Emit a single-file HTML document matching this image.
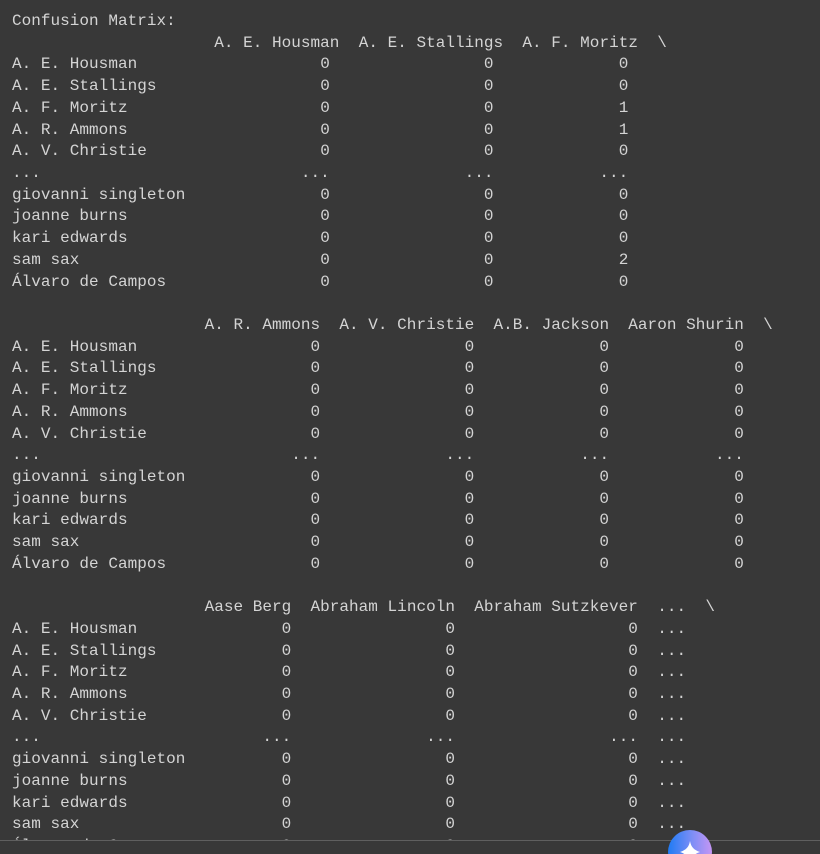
<!DOCTYPE html>
<html><head><meta charset="utf-8"><style>
html,body{margin:0;padding:0;background:#383838;width:820px;height:854px;overflow:hidden;}
body{position:relative;font-family:"Liberation Mono",monospace;font-size:16px;color:#d4d4d4;}
.l{position:absolute;left:0;height:22px;line-height:22px;width:820px;}
.l span{position:absolute;white-space:pre;letter-spacing:0.03px;}
.c0{left:12px}
.bar{position:absolute;left:0;top:840px;width:820px;height:14px;background:#383838;border-top:1px solid #5f5f5f;}
.fab{position:absolute;left:668px;top:830px;width:44px;height:44px;border-radius:50%;background:linear-gradient(90deg,#1f7bf4,#7d8ef6 55%,#c596f4);}
</style></head><body>
<div class="l" style="top:10px"><span class="c0">Confusion Matrix:</span></div>
<div class="l" style="top:31.7px"><span style="left:214.2px">A. E. Housman</span><span style="left:358.7px">A. E. Stallings</span><span style="left:522.4px">A. F. Moritz</span><span style="left:657.2px">\</span></div>

<div class="l" style="top:53.4px"><span class="c0">A. E. Housman</span><span style="left:320.2px">0</span><span style="left:483.9px">0</span><span style="left:618.7px">0</span></div>
<div class="l" style="top:75.1px"><span class="c0">A. E. Stallings</span><span style="left:320.2px">0</span><span style="left:483.9px">0</span><span style="left:618.7px">0</span></div>
<div class="l" style="top:96.8px"><span class="c0">A. F. Moritz</span><span style="left:320.2px">0</span><span style="left:483.9px">0</span><span style="left:618.7px">1</span></div>
<div class="l" style="top:118.6px"><span class="c0">A. R. Ammons</span><span style="left:320.2px">0</span><span style="left:483.9px">0</span><span style="left:618.7px">1</span></div>
<div class="l" style="top:140.3px"><span class="c0">A. V. Christie</span><span style="left:320.2px">0</span><span style="left:483.9px">0</span><span style="left:618.7px">0</span></div>
<div class="l" style="top:162px"><span class="c0">...</span><span style="left:300.9px">...</span><span style="left:464.6px">...</span><span style="left:599.4px">...</span></div>
<div class="l" style="top:183.7px"><span class="c0">giovanni singleton</span><span style="left:320.2px">0</span><span style="left:483.9px">0</span><span style="left:618.7px">0</span></div>
<div class="l" style="top:205.4px"><span class="c0">joanne burns</span><span style="left:320.2px">0</span><span style="left:483.9px">0</span><span style="left:618.7px">0</span></div>
<div class="l" style="top:227.1px"><span class="c0">kari edwards</span><span style="left:320.2px">0</span><span style="left:483.9px">0</span><span style="left:618.7px">0</span></div>
<div class="l" style="top:248.8px"><span class="c0">sam sax</span><span style="left:320.2px">0</span><span style="left:483.9px">0</span><span style="left:618.7px">2</span></div>
<div class="l" style="top:270.5px"><span class="c0">Álvaro de Campos</span><span style="left:320.2px">0</span><span style="left:483.9px">0</span><span style="left:618.7px">0</span></div>

<div class="l" style="top:314px"><span style="left:204.6px">A. R. Ammons</span><span style="left:339.4px">A. V. Christie</span><span style="left:493.5px">A.B. Jackson</span><span style="left:628.3px">Aaron Shurin</span><span style="left:763.1px">\</span></div>
<div class="l" style="top:335.7px"><span class="c0">A. E. Housman</span><span style="left:310.5px">0</span><span style="left:464.6px">0</span><span style="left:599.4px">0</span><span style="left:734.3px">0</span></div>
<div class="l" style="top:357.4px"><span class="c0">A. E. Stallings</span><span style="left:310.5px">0</span><span style="left:464.6px">0</span><span style="left:599.4px">0</span><span style="left:734.3px">0</span></div>
<div class="l" style="top:379.1px"><span class="c0">A. F. Moritz</span><span style="left:310.5px">0</span><span style="left:464.6px">0</span><span style="left:599.4px">0</span><span style="left:734.3px">0</span></div>
<div class="l" style="top:400.8px"><span class="c0">A. R. Ammons</span><span style="left:310.5px">0</span><span style="left:464.6px">0</span><span style="left:599.4px">0</span><span style="left:734.3px">0</span></div>
<div class="l" style="top:422.5px"><span class="c0">A. V. Christie</span><span style="left:310.5px">0</span><span style="left:464.6px">0</span><span style="left:599.4px">0</span><span style="left:734.3px">0</span></div>
<div class="l" style="top:444.2px"><span class="c0">...</span><span style="left:291.3px">...</span><span style="left:445.4px">...</span><span style="left:580.2px">...</span><span style="left:715px">...</span></div>
<div class="l" style="top:465.9px"><span class="c0">giovanni singleton</span><span style="left:310.5px">0</span><span style="left:464.6px">0</span><span style="left:599.4px">0</span><span style="left:734.3px">0</span></div>
<div class="l" style="top:487.6px"><span class="c0">joanne burns</span><span style="left:310.5px">0</span><span style="left:464.6px">0</span><span style="left:599.4px">0</span><span style="left:734.3px">0</span></div>
<div class="l" style="top:509.4px"><span class="c0">kari edwards</span><span style="left:310.5px">0</span><span style="left:464.6px">0</span><span style="left:599.4px">0</span><span style="left:734.3px">0</span></div>
<div class="l" style="top:531.1px"><span class="c0">sam sax</span><span style="left:310.5px">0</span><span style="left:464.6px">0</span><span style="left:599.4px">0</span><span style="left:734.3px">0</span></div>
<div class="l" style="top:552.8px"><span class="c0">Álvaro de Campos</span><span style="left:310.5px">0</span><span style="left:464.6px">0</span><span style="left:599.4px">0</span><span style="left:734.3px">0</span></div>

<div class="l" style="top:596.2px"><span style="left:204.6px">Aase Berg</span><span style="left:310.5px">Abraham Lincoln</span><span style="left:474.2px">Abraham Sutzkever</span><span style="left:657.2px">...</span><span style="left:705.4px">\</span></div>
<div class="l" style="top:617.9px"><span class="c0">A. E. Housman</span><span style="left:281.6px">0</span><span style="left:445.4px">0</span><span style="left:628.3px">0</span><span style="left:657.2px">...</span></div>
<div class="l" style="top:639.6px"><span class="c0">A. E. Stallings</span><span style="left:281.6px">0</span><span style="left:445.4px">0</span><span style="left:628.3px">0</span><span style="left:657.2px">...</span></div>
<div class="l" style="top:661.3px"><span class="c0">A. F. Moritz</span><span style="left:281.6px">0</span><span style="left:445.4px">0</span><span style="left:628.3px">0</span><span style="left:657.2px">...</span></div>
<div class="l" style="top:683px"><span class="c0">A. R. Ammons</span><span style="left:281.6px">0</span><span style="left:445.4px">0</span><span style="left:628.3px">0</span><span style="left:657.2px">...</span></div>
<div class="l" style="top:704.7px"><span class="c0">A. V. Christie</span><span style="left:281.6px">0</span><span style="left:445.4px">0</span><span style="left:628.3px">0</span><span style="left:657.2px">...</span></div>
<div class="l" style="top:726.4px"><span class="c0">...</span><span style="left:262.4px">...</span><span style="left:426.1px">...</span><span style="left:609.1px">...</span><span style="left:657.2px">...</span></div>
<div class="l" style="top:748.1px"><span class="c0">giovanni singleton</span><span style="left:281.6px">0</span><span style="left:445.4px">0</span><span style="left:628.3px">0</span><span style="left:657.2px">...</span></div>
<div class="l" style="top:769.9px"><span class="c0">joanne burns</span><span style="left:281.6px">0</span><span style="left:445.4px">0</span><span style="left:628.3px">0</span><span style="left:657.2px">...</span></div>
<div class="l" style="top:791.6px"><span class="c0">kari edwards</span><span style="left:281.6px">0</span><span style="left:445.4px">0</span><span style="left:628.3px">0</span><span style="left:657.2px">...</span></div>
<div class="l" style="top:813.3px"><span class="c0">sam sax</span><span style="left:281.6px">0</span><span style="left:445.4px">0</span><span style="left:628.3px">0</span><span style="left:657.2px">...</span></div>
<div class="l" style="top:835px"><span class="c0">Álvaro de Campos</span><span style="left:281.6px">0</span><span style="left:445.4px">0</span><span style="left:628.3px">0</span><span style="left:657.2px">...</span></div>

<div class="bar"></div>
<div class="fab"><svg width="44" height="44" viewBox="0 0 44 44" style="position:absolute;left:0;top:0"><path d="M22 11 C23 17 26 20 32 22 C26 24 23 27 22 33 C21 27 18 24 12 22 C18 20 21 17 22 11Z" fill="#fff"/></svg></div>
</body></html>
